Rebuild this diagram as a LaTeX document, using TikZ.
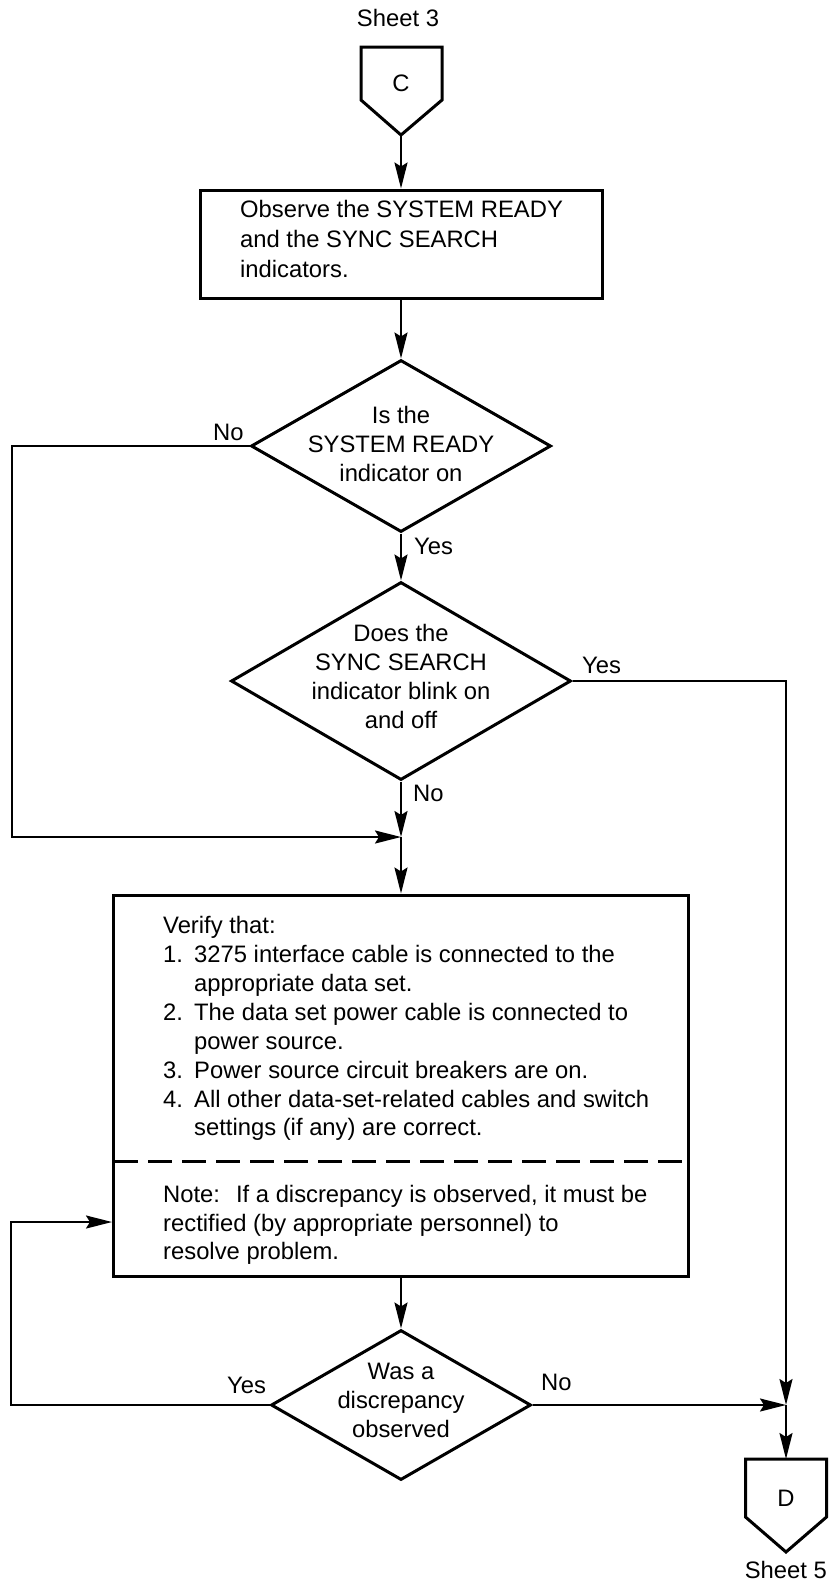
\documentclass[tikz,border=0pt]{standalone}
\usepackage{fontspec}
\setmainfont{Liberation Sans}
\usetikzlibrary{arrows.meta,shapes.geometric}
\begin{document}
\begin{tikzpicture}[x=1pt,y=-1pt,
  every node/.style={font=\fontsize{23.8pt}{29pt}\selectfont},
  shapeline/.style={draw,line width=3pt,inner sep=0pt},
  stepbox/.style={shapeline,rectangle},
  decision/.style={shapeline,diamond},
  outline/.style={line width=3pt,line join=miter},
  conn/.style={line width=2.2pt},
  arr/.style={conn,-{Stealth[length=26pt,width=13pt,inset=4pt]}},
  lt/.style={anchor=base west,inner sep=0pt},
  ct/.style={align=center,inner sep=0pt},
  lab/.style={anchor=base west,inner sep=0pt}]
\useasboundingbox (0,0) rectangle (828,1596);

% ---- off-page connector C
\node[anchor=base,inner sep=0pt] (s3) at (398,26) {Sheet 3};
\draw[outline] (361,47) -- (442,47) -- (442,100) -- (401,135) -- (361,100) -- cycle;
\node[inner sep=0pt] (C) at (401,83) {C};
\coordinate (Ctip) at (401,135);

% ---- box 1
\node[stepbox,minimum width=402pt,minimum height=108pt] (b1) at (401,244) {};
\node[lt] (b1a) at (240,217) {Observe the SYSTEM READY};
\node[lt] (b1b) at (240,247) {and the SYNC SEARCH};
\node[lt] (b1c) at (240,277) {indicators.};
\draw[arr] (Ctip) -- (b1.north);

% ---- decision 1
\node[decision,minimum width=300pt,minimum height=172pt] (d1) at (401,446) {};
\node[ct] (d1t) at (401,444) {Is the\\SYSTEM READY\\indicator on};
\draw[arr] (b1.south) -- (d1.north);
\node[lab] (n1) at (213,440) {No};
\node[lab] (y1) at (414,554) {Yes};

% ---- decision 2
\node[decision,minimum width=340pt,minimum height=198pt] (d2) at (401,681) {};
\node[ct] (d2t) at (401,676) {Does the\\SYNC SEARCH\\indicator blink on\\and off};
\draw[arr] (d1.south) -- (d2.north);
\node[lab] (y2) at (582,673) {Yes};
\node[lab] (n2) at (413,801) {No};

% ---- junctions
\coordinate (j1) at (401,837);
\coordinate (c1) at (12,837);
\coordinate (j2) at (786,1405);
\draw[arr] (d1.west) -| (c1) -- (j1);
\draw[arr] (d2.south) -- (j1);
\draw[arr] (d2.east) -| (j2);

% ---- box 2
\node[stepbox,minimum width=575pt,minimum height=381pt] (b2) at (401,1085.5) {};
\draw[arr] (j1) -- (b2.north);
\coordinate (dl) at (114,1161);
\coordinate (dr) at (688,1161);
\draw[line width=3pt,dash pattern=on 24pt off 10pt] (dl) -- (dr);
\node[lt] (v0) at (163,933) {Verify that:};
\node[lt] (v1) at (163,962) {\makebox[31pt][l]{1.}3275 interface cable is connected to the};
\node[lt] (v1b) at (194,991) {appropriate data set.};
\node[lt] (v2) at (163,1020) {\makebox[31pt][l]{2.}The data set power cable is connected to};
\node[lt] (v2b) at (194,1049) {power source.};
\node[lt] (v3) at (163,1078) {\makebox[31pt][l]{3.}Power source circuit breakers are on.};
\node[lt] (v4) at (163,1107) {\makebox[31pt][l]{4.}All other data-set-related cables and switch};
\node[lt] (v4b) at (194,1135) {settings (if any) are correct.};
\node[lt] (nt1) at (163,1202) {Note:\hspace*{16pt}If a discrepancy is observed, it must be};
\node[lt] (nt2) at (163,1231) {rectified (by appropriate personnel) to};
\node[lt] (nt3) at (163,1259) {resolve problem.};

% ---- decision 3
\node[decision,minimum width=260pt,minimum height=150pt] (d3) at (401,1405) {};
\node[ct] (d3t) at (401,1400) {Was a\\discrepancy\\observed};
\draw[arr] (b2.south) -- (d3.north);
\coordinate (lp) at (11,1222);
\draw[arr] (d3.west) -| (lp) -- (lp -| b2.west);
\node[lab] (y3) at (227,1393) {Yes};
\draw[arr] (d3.east) -- (j2);
\node[lab] (n3) at (541,1390) {No};

% ---- off-page connector D
\draw[outline] (745.5,1459) -- (826.5,1459) -- (826.5,1517) -- (786,1552) -- (745.5,1517) -- cycle;
\coordinate (Dtop) at (786,1459);
\draw[arr] (j2) -- (Dtop);
\node[inner sep=0pt] (D) at (786,1498) {D};
\node[anchor=base east,inner sep=0pt] (s5) at (827,1578) {Sheet 5};
\end{tikzpicture}
\end{document}
